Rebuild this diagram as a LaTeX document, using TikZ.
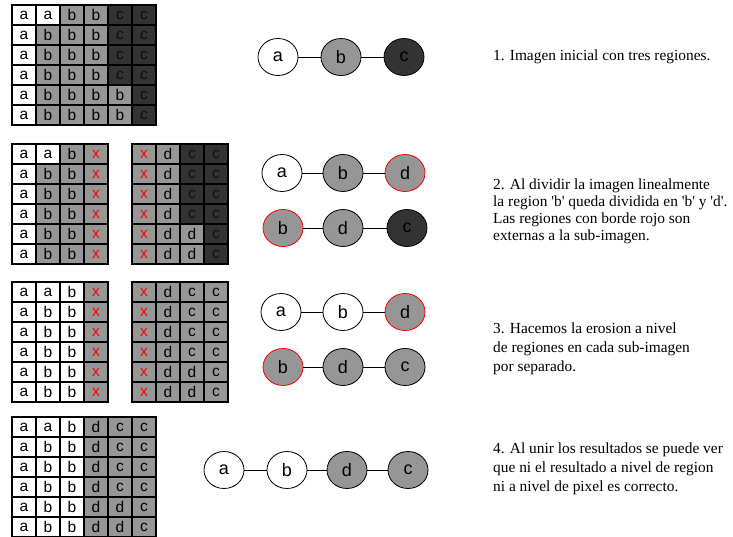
\documentclass[tikz,border=0pt]{standalone}
\usepackage{fontspec}
\setmainfont{Liberation Serif}
\setsansfont{Liberation Sans}
\usetikzlibrary{shapes.geometric}

\definecolor{reggray}{RGB}{150,150,150}
\definecolor{regdark}{RGB}{51,51,51}
\definecolor{xred}{RGB}{255,0,0}

\tikzset{
  cell/.style={draw=black, line width=1.3pt, minimum width=24pt, minimum height=20pt,
    inner sep=0pt, font=\sffamily\fontsize{15.5}{15.5}\selectfont, text=black},
  W/.style={fill=white},
  G/.style={fill=reggray},
  K/.style={fill=regdark, text=black!95},
  X/.style={fill=reggray, text=xred},
  frame/.style={draw=black, line width=2.2pt},
  region/.style={ellipse, draw=black, line width=0.8pt, minimum width=40pt,
    minimum height=37pt, inner sep=0pt, font=\sffamily\fontsize{18}{18}\selectfont},
  rW/.style={region, fill=white},
  rG/.style={region, fill=reggray},
  rK/.style={region, fill=regdark},
  ext/.style={draw=xred},
  link/.style={draw=black, line width=0.9pt},
  caption/.style={anchor=west, align=left, inner sep=0pt,
    font=\rmfamily\fontsize{15.4}{17}\selectfont},
  widecaption/.style={caption, font=\rmfamily\fontsize{15.4}{19.2}\selectfont}
}

% one pixel grid: name, left, top, list of rows (each row a list of letter/style)
\newcommand\pixgrid[4]{%
  \foreach \row [count=\r from 0] in {#4} {
    \foreach \l/\s [count=\c from 0] in \row {
      \node[cell,\s] (#1-\r-\c) at ({#2+24*\c+12},{#3+20*\r+10}) {\l};
    }
  }
}
\newcommand\sq{\textquotesingle}

\begin{document}
\begin{tikzpicture}[x=1pt, y=-1pt]
  \useasboundingbox[fill=white] (0,0) rectangle (733,537);

  % ---- step 1: initial image ----
  \pixgrid{ga}{12}{5}{
    {a/W,a/W,b/G,b/G,c/K,c/K},
    {a/W,b/G,b/G,b/G,c/K,c/K},
    {a/W,b/G,b/G,b/G,c/K,c/K},
    {a/W,b/G,b/G,b/G,c/K,c/K},
    {a/W,b/G,b/G,b/G,b/G,c/K},
    {a/W,b/G,b/G,b/G,b/G,c/K}}
  \draw[frame] (12,5) rectangle (156,125);

  \node[rW] (a1) at (278,57) {a};
  \node[rG] (b1) at (341,57) {b};
  \node[rK] (c1) at (404,57) {c};
  \draw[link] (a1) -- (b1);
  \draw[link] (b1) -- (c1);

  \node[caption] (t1) at (493,57) {1. Imagen inicial con tres regiones.};

  % ---- step 2: split into two sub-images ----
  \pixgrid{gbl}{12}{144}{
    {a/W,a/W,b/G,x/X},
    {a/W,b/G,b/G,x/X},
    {a/W,b/G,b/G,x/X},
    {a/W,b/G,b/G,x/X},
    {a/W,b/G,b/G,x/X},
    {a/W,b/G,b/G,x/X}}
  \draw[frame] (12,144) rectangle (108,264);
  \pixgrid{gbr}{132}{144}{
    {x/X,d/G,c/K,c/K},
    {x/X,d/G,c/K,c/K},
    {x/X,d/G,c/K,c/K},
    {x/X,d/G,c/K,c/K},
    {x/X,d/G,d/G,c/K},
    {x/X,d/G,d/G,c/K}}
  \draw[frame] (132,144) rectangle (228,264);

  \node[rW] (a2) at (282,173) {a};
  \node[rG] (b2) at (343,173) {b};
  \node[rG,ext] (d2) at (405,173) {d};
  \draw[link] (a2) -- (b2);
  \draw[link] (b2) -- (d2);
  \node[rG,ext] (b2s) at (283,228) {b};
  \node[rG] (d2s) at (343,228) {d};
  \node[rK] (c2s) at (407,228) {c};
  \draw[link] (b2s) -- (d2s);
  \draw[link] (d2s) -- (c2s);

  \node[caption] (t2) at (493,211) {2. Al dividir la imagen linealmente\\
    la region \sq b\sq{} queda dividida en \sq b\sq{} y \sq d\sq.\\
    Las regiones con borde rojo son\\
    externas a la sub-imagen.};

  % ---- step 3: erosion on each sub-image ----
  \pixgrid{gcl}{12}{282}{
    {a/W,a/W,b/W,x/X},
    {a/W,b/W,b/W,x/X},
    {a/W,b/W,b/W,x/X},
    {a/W,b/W,b/W,x/X},
    {a/W,b/W,b/W,x/X},
    {a/W,b/W,b/W,x/X}}
  \draw[frame] (12,282) rectangle (108,402);
  \pixgrid{gcr}{132}{282}{
    {x/X,d/G,c/G,c/G},
    {x/X,d/G,c/G,c/G},
    {x/X,d/G,c/G,c/G},
    {x/X,d/G,c/G,c/G},
    {x/X,d/G,d/G,c/G},
    {x/X,d/G,d/G,c/G}}
  \draw[frame] (132,282) rectangle (228,402);

  \node[rW] (a3) at (281,312) {a};
  \node[rW] (b3) at (343,312) {b};
  \node[rG,ext] (d3) at (405,312) {d};
  \draw[link] (a3) -- (b3);
  \draw[link] (b3) -- (d3);
  \node[rG,ext] (b3s) at (283,367) {b};
  \node[rG] (d3s) at (343,367) {d};
  \node[rG] (c3s) at (405,367) {c};
  \draw[link] (b3s) -- (d3s);
  \draw[link] (d3s) -- (c3s);

  \node[widecaption] (t3) at (493,349) {3. Hacemos la erosion a nivel\\
    de regiones en cada sub-imagen\\
    por separado.};

  % ---- step 4: merged result ----
  \pixgrid{gd}{12}{417}{
    {a/W,a/W,b/W,d/G,c/G,c/G},
    {a/W,b/W,b/W,d/G,c/G,c/G},
    {a/W,b/W,b/W,d/G,c/G,c/G},
    {a/W,b/W,b/W,d/G,c/G,c/G},
    {a/W,b/W,b/W,d/G,d/G,c/G},
    {a/W,b/W,b/W,d/G,d/G,c/G}}
  \draw[frame] (12,417) rectangle (156,537);

  \node[rW] (a4) at (224,470) {a};
  \node[rW] (b4) at (287,470) {b};
  \node[rG] (d4) at (347,470) {d};
  \node[rG] (c4) at (408,470) {c};
  \draw[link] (a4) -- (b4);
  \draw[link] (b4) -- (d4);
  \draw[link] (d4) -- (c4);

  \node[widecaption] (t4) at (493,469) {4. Al unir los resultados se puede ver\\
    que ni el resultado a nivel de region\\
    ni a nivel de pixel es correcto.};
\end{tikzpicture}
\end{document}
